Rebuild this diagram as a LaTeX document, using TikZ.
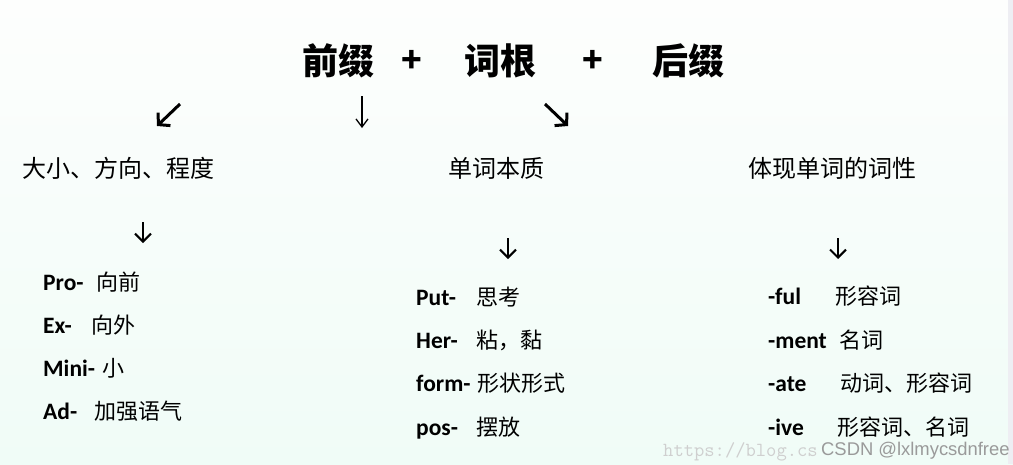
\documentclass[tikz,border=0pt]{standalone}
\usepackage{fontspec}
\usetikzlibrary{arrows.meta}
\newfontfamily\cjk{Noto Sans CJK SC}
\newfontfamily\lat{Carlito}
\newfontfamily\wm{Liberation Sans}
\definecolor{mintbot}{HTML}{F0FCF7}
\definecolor{minttop}{HTML}{FDFEFD}
\definecolor{edgegray}{HTML}{EEEEF3}
\definecolor{wmgray}{HTML}{9A9A9A}
\definecolor{urlgray}{HTML}{CFCFCF}
\tikzset{
  title/.style={inner sep=0pt, anchor=base, font=\cjk\bfseries\fontsize{36}{40}\selectfont},
  plus/.style={inner sep=0pt, anchor=base, font=\cjk\bfseries\fontsize{34}{40}\selectfont},
  cat/.style={inner sep=0pt, anchor=base west, font=\cjk\fontsize{24}{28}\selectfont},
  lat/.style={inner sep=0pt, anchor=base west, font=\lat\bfseries\fontsize{23.5}{26}\selectfont},
  zh/.style={inner sep=0pt, anchor=base west, font=\cjk\fontsize{22}{26}\selectfont},
  bigarr/.style={line width=3pt, -{Straight Barb[length=8pt,width=18pt,line width=3pt]}},
  thinarr/.style={line width=1.3pt, -{Straight Barb[length=8pt,width=12pt,line width=1.3pt]}},
  smallarr/.style={line width=2pt, -{Straight Barb[length=8pt,width=16pt,line width=2pt]}},
}
\begin{document}
\begin{tikzpicture}[x=1pt,y=-1pt]
\useasboundingbox (0,0) rectangle (1013,464);
\shade[top color=minttop, bottom color=mintbot] (0,0) rectangle (1013,464);
\fill[edgegray] (1008,0) rectangle (1013,464);

% title
\node[title] (pre) at (338,74) {前缀};
\node[plus] (p1) at (412,72) {+};
\node[title] (root) at (500,74) {词根};
\node[plus] (p2) at (593,72) {+};
\node[title] (suf) at (688,74) {后缀};

% big arrows
\coordinate (a1s) at (180,104); \coordinate (a1e) at (157,126);
\coordinate (a2s) at (362,96);  \coordinate (a2e) at (362,128);
\coordinate (a3s) at (545,104); \coordinate (a3e) at (568,126);
\draw[bigarr] (a1s) -- (a1e);
\draw[thinarr] (a2s) -- (a2e);
\draw[bigarr] (a3s) -- (a3e);

% categories
\node[cat] (cat1) at (22,177) {大小、方向、程度};
\node[cat] (cat2) at (448,177) {单词本质};
\node[cat] (cat3) at (748,177) {体现单词的词性};

% small arrows
\coordinate (b1s) at (143,222); \coordinate (b1e) at (143,243);
\coordinate (b2s) at (508,238); \coordinate (b2e) at (508,259);
\coordinate (b3s) at (838,238); \coordinate (b3e) at (838,259);
\draw[smallarr] (b1s) -- (b1e);
\draw[smallarr] (b2s) -- (b2e);
\draw[smallarr] (b3s) -- (b3e);

% left column
\node[lat] (l1) at (43,290) {Pro-};  \node[zh] (l1z) at (96,290) {向前};
\node[lat] (l2) at (43,333) {Ex-};   \node[zh] (l2z) at (91,333) {向外};
\node[lat] (l3) at (43,376) {Mini-}; \node[zh] (l3z) at (102,376) {小};
\node[lat] (l4) at (43,419) {Ad-};   \node[zh] (l4z) at (94,419) {加强语气};

% middle column
\node[lat] (m1) at (416,305) {Put-};  \node[zh] (m1z) at (476,305) {思考};
\node[lat] (m2) at (416,348) {Her-};  \node[zh] (m2z) at (476,348) {粘，黏};
\node[lat] (m3) at (416,391) {form-}; \node[zh] (m3z) at (477,391) {形状形式};
\node[lat] (m4) at (416,435) {pos-};  \node[zh] (m4z) at (476,435) {摆放};

% right column
\node[lat] (r1) at (768,304) {-ful};  \node[zh] (r1z) at (835,304) {形容词};
\node[lat] (r2) at (768,348) {-ment}; \node[zh] (r2z) at (839,348) {名词};
\node[lat] (r3) at (768,391) {-ate};  \node[zh] (r3z) at (840,391) {动词、形容词};
\node[lat] (r4) at (768,435) {-ive};  \node[zh] (r4z) at (837,435) {形容词、名词};

% watermark
\node[inner sep=0pt, anchor=base west, text=urlgray, font=\ttfamily\fontsize{20}{22}\selectfont] (url) at (663,456) {https://blog.cs};
\node[inner sep=0pt, anchor=base west, text=wmgray, font=\wm\fontsize{18.4}{20}\selectfont] (csdn) at (821,455) {CSDN @lxlmycsdnfree};
\end{tikzpicture}
\end{document}
